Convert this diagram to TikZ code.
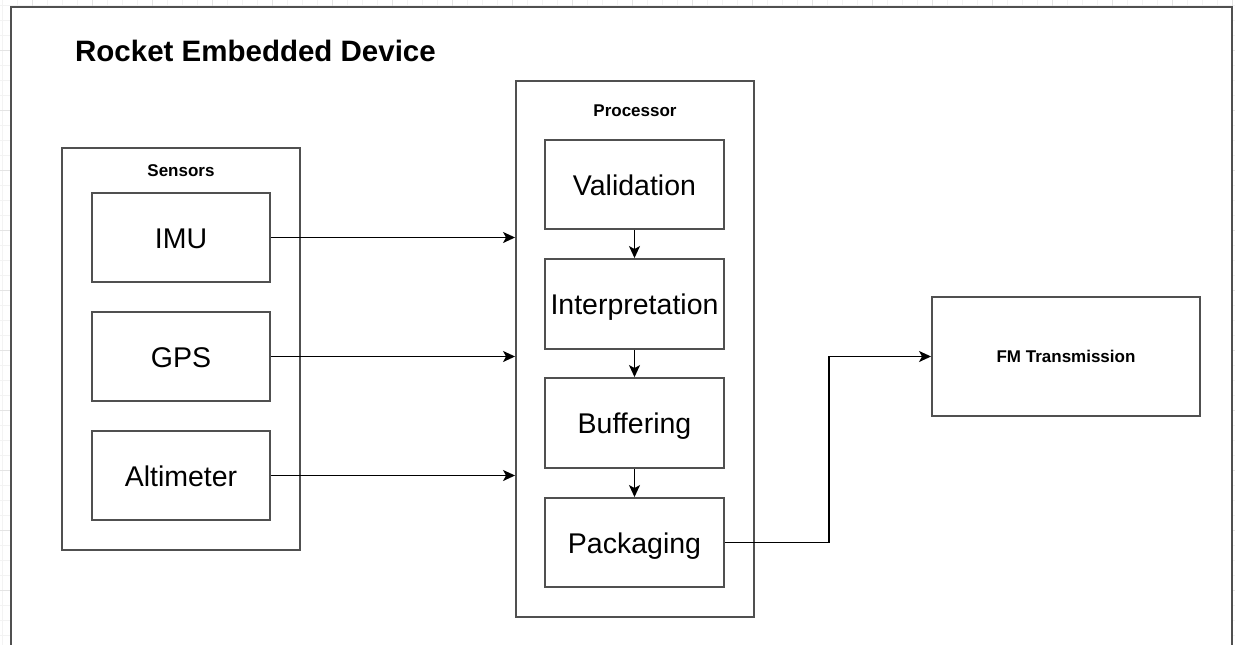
\documentclass[tikz,border=0pt]{standalone}
\usepackage{fontspec}
\setmainfont{Liberation Sans}
\usetikzlibrary{arrows.meta}
\definecolor{boxline}{HTML}{505050}
\definecolor{gridminor}{HTML}{F3F3F3}
\definecolor{gridmajor}{HTML}{E4E4E4}
\tikzset{
  gridthin/.style={draw=gridminor, line width=0.8pt},
  gridthick/.style={draw=gridmajor, line width=0.8pt},
  framebox/.style={draw=boxline, line width=2.2pt, fill=white, inner sep=0pt, anchor=north west},
  groupbox/.style={draw=boxline, line width=1.9pt, fill=white, inner sep=0pt},
  stagebox/.style={draw=boxline, line width=1.9pt, fill=white, inner sep=0pt,
    font=\fontsize{28.5}{33}\selectfont, text height=25.6pt, text depth=4pt},
  grouplabel/.style={font=\bfseries\fontsize{17}{20}\selectfont, inner sep=0pt,
    text height=15.3pt, text depth=2.4pt},
  conn/.style={draw=black, line width=1.5pt,
    -{Stealth[length=12pt, width=11pt, inset=3pt]}},
}
\begin{document}
\begin{tikzpicture}[x=1pt, y=-1pt]
\useasboundingbox (0,0) rectangle (1235,645);
\clip (0,0) rectangle (1235,645);

% page grid
\foreach \x in {2,17,...,1235} \draw[gridthin] (\x,0) -- (\x,645);
\foreach \y in {5,20,...,645} \draw[gridthin] (0,\y) -- (1235,\y);
\foreach \x in {32,92,...,1235} \draw[gridthick] (\x,0) -- (\x,645);
\foreach \y in {50,110,...,645} \draw[gridthick] (0,\y) -- (1235,\y);

% device frame
\node[framebox, minimum width=1221pt, minimum height=680pt] (device) at (10,6) {};
\node[font=\bfseries\fontsize{29.5}{34}\selectfont, inner sep=0pt,
      text height=26.5pt, text depth=4.1pt] (title) at (255.5,50) {Rocket Embedded Device};

% sensors group
\node[groupbox, minimum width=238pt, minimum height=402pt] (sensors) at (181,349) {};
\node[grouplabel] (sensorslabel) at (181,170) {Sensors};
\node[stagebox, minimum width=178pt, minimum height=89pt] (imu) at (181,237.5) {IMU};
\node[stagebox, minimum width=178pt, minimum height=89pt] (gps) at (181,356.5) {GPS};
\node[stagebox, minimum width=178pt, minimum height=89pt] (alt) at (181,475.5) {Altimeter};

% processor group
\node[groupbox, minimum width=238pt, minimum height=536pt] (proc) at (635,349) {};
\node[grouplabel] (proclabel) at (635,110) {Processor};
\node[stagebox, minimum width=179pt, minimum height=89pt] (val) at (634.5,184.5) {Validation};
\node[stagebox, minimum width=179pt, minimum height=90pt] (interp) at (634.5,304) {Interpretation};
\node[stagebox, minimum width=179pt, minimum height=90pt] (buf) at (634.5,423) {Buffering};
\node[stagebox, minimum width=179pt, minimum height=89pt] (pack) at (634.5,542.5) {Packaging};

% transmitter
\node[groupbox, minimum width=268pt, minimum height=119pt,
      font=\bfseries\fontsize{17}{20}\selectfont, text height=15.3pt, text depth=2.4pt]
      (fm) at (1066,356.5) {FM Transmission};

% sensor feeds
\draw[conn] (imu.east) -- (imu.east -| proc.west);
\draw[conn] (gps.east) -- (gps.east -| proc.west);
\draw[conn] (alt.east) -- (alt.east -| proc.west);

% processing chain
\draw[conn] (val.south) -- (interp.north);
\draw[conn] (interp.south) -- (buf.north);
\draw[conn] (buf.south) -- (pack.north);

% output link
\coordinate (elbow) at (829,542.5);
\draw[conn] (pack.east) -- (elbow) |- (fm.west);
\end{tikzpicture}
\end{document}
